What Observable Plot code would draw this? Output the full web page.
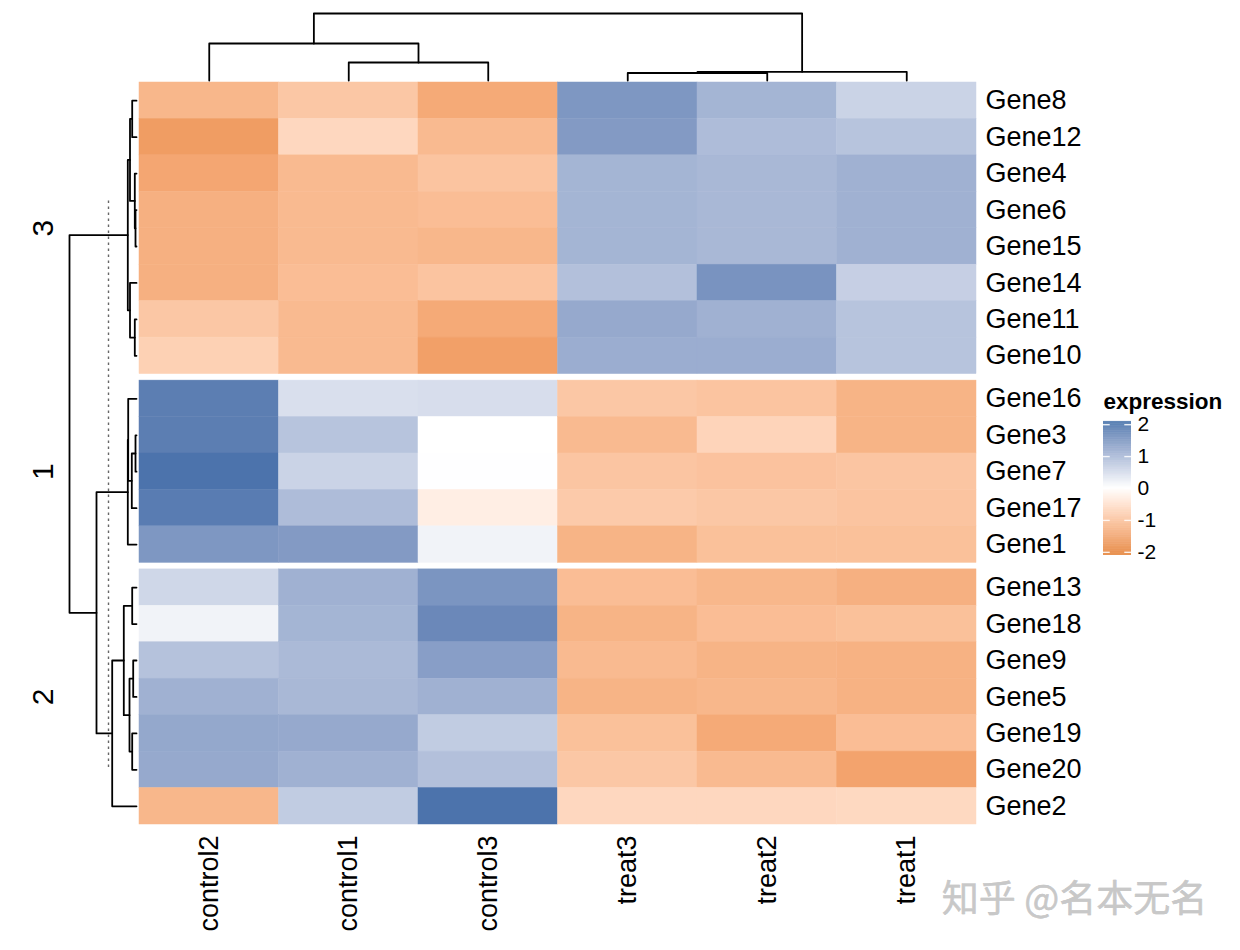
<!DOCTYPE html>
<html><head><meta charset="utf-8">
<script src="https://cdn.jsdelivr.net/npm/d3@7"></script>
<script src="https://cdn.jsdelivr.net/npm/@observablehq/plot@0.6"></script>
<style>
body{margin:0;background:#fff;}
#wrap{position:relative;width:1240px;height:950px;overflow:hidden;}
.layer{position:absolute;}
</style></head><body><div id="wrap"></div>
<script>
// ---------------- data ----------------
const columns = ["control2", "control1", "control3", "treat3", "treat2", "treat1"];
const sliceNames = ["3", "1", "2"];
const slice3Genes = ["Gene8", "Gene12", "Gene4", "Gene6", "Gene15", "Gene14", "Gene11", "Gene10"];
const slice1Genes = ["Gene16", "Gene3", "Gene7", "Gene17", "Gene1"];
const slice2Genes = ["Gene13", "Gene18", "Gene9", "Gene5", "Gene19", "Gene20", "Gene2"];
// values per gene row, in column order above
const slice3Values = [
  [-1.10, -0.85, -1.30, 1.35, 0.95, 0.55],
  [-1.50, -0.60, -1.05, 1.30, 0.85, 0.75],
  [-1.35, -1.05, -0.90, 0.95, 0.90, 1.00],
  [-1.20, -1.05, -1.00, 0.95, 0.90, 1.00],
  [-1.20, -1.05, -1.10, 0.95, 0.90, 1.00],
  [-1.20, -1.00, -0.90, 0.80, 1.40, 0.60],
  [-0.85, -1.05, -1.30, 1.10, 1.00, 0.75],
  [-0.70, -1.05, -1.45, 1.05, 1.05, 0.75]
];
const slice1Values = [
  [1.70, 0.40, 0.42, -0.85, -0.90, -1.15],
  [1.70, 0.75, 0.00, -1.05, -0.65, -1.15],
  [1.85, 0.55, 0.01, -0.88, -0.92, -0.88],
  [1.72, 0.85, -0.25, -0.80, -0.85, -0.90],
  [1.35, 1.30, 0.15, -1.15, -0.95, -0.95]
];
const slice2Values = [
  [0.50, 1.00, 1.38, -1.00, -1.10, -1.20],
  [0.15, 0.95, 1.55, -1.15, -1.00, -0.95],
  [0.78, 0.88, 1.25, -1.05, -1.15, -1.18],
  [1.00, 0.90, 1.00, -1.15, -1.10, -1.18],
  [1.12, 1.10, 0.65, -0.95, -1.30, -1.00],
  [1.10, 1.00, 0.80, -0.85, -1.05, -1.40],
  [-1.10, 0.65, 1.85, -0.60, -0.60, -0.58]
];
const legendTicks = [2, 1, 0, -1, -2];
const legendTitle = "expression";
const watermark = "知乎 @名本无名";
// dendrograms: [left, right, mergeHeight]
const colTree = [["control2", ["control1", "control3", 18], 37], [["treat3", "treat2", 7.5], "treat1", 8.7], 67];
const rowTreeSlice3 = [[["Gene8", "Gene12", 4.3], ["Gene4", ["Gene6", "Gene15", 1.0], 1.7], 6.5], ["Gene14", ["Gene11", "Gene10", 1.7], 6.5], 8.7];
const rowTreeSlice1 = [["Gene16", [["Gene3", "Gene7", 1.0], "Gene17", 4.7], 8.3], "Gene1", 8.7];
const rowTreeSlice2 = [[["Gene13", "Gene18", 4.3], [["Gene9", "Gene5", 3.3], ["Gene19", "Gene20", 4.3], 7.0], 12.7], "Gene2", 24.3];
const rowTree = [rowTreeSlice3, [rowTreeSlice1, rowTreeSlice2, 40], 67];
const cutHeight = 28;

// ---------------- layout ----------------
const W = 1240, H = 950;
const mLeft = 139, mRight = 264, mTop = 82, mBottom = 126;
const sliceGap = 0.18; // in row units
const slices = [
  {name: sliceNames[0], genes: slice3Genes, values: slice3Values},
  {name: sliceNames[1], genes: slice1Genes, values: slice1Values},
  {name: sliceNames[2], genes: slice2Genes, values: slice2Values}
];
let offset = 0;
const geneY = new Map();
slices.forEach((s) => {
  s.start = offset;
  s.genes.forEach((g, i) => geneY.set(g, offset + i));
  offset += s.genes.length;
  s.end = offset;
  offset += sliceGap;
});
const totalRows = offset - sliceGap;
const colPx = (W - mLeft - mRight) / columns.length;
const rowPx = (H - mTop - mBottom) / totalRows;

const cells = slices.flatMap(s => s.genes.flatMap((g, i) =>
  columns.map((c, j) => ({gene: g, col: j, y: geneY.get(g), value: s.values[i][j]}))));
const geneRows = slices.flatMap(s => s.genes.map(g => ({gene: g, y: geneY.get(g)})));

function dendroLines(tree, leafPos) {
  const out = [];
  let id = 0;
  function walk(node) {
    if (typeof node === "string") return {p: leafPos(node), h: 0};
    const [a, b, h] = node;
    const A = walk(a), B = walk(b);
    const k = id++;
    out.push({id: k, p: A.p, h: A.h}, {id: k, p: A.p, h}, {id: k, p: B.p, h}, {id: k, p: B.p, h: B.h});
    return {p: (A.p + B.p) / 2, h};
  }
  walk(tree);
  return out;
}
const colLines = dendroLines(colTree, n => columns.indexOf(n) + 0.5);
const rowLines = dendroLines(rowTree, n => geneY.get(n) + 0.5);
const colDendY = h => -(2 + h) / rowPx;
const rowDendX = h => -(3 + h) / colPx;

const colorSpec = {
  type: "linear",
  domain: [-2, 0, 2],
  range: ["#e47c2e", "#ffffff", "#3a69a5"],
  interpolate: d3.interpolateLab,
  clamp: true
};
const font = "Liberation Sans, Arial, Helvetica, sans-serif";

const main = Plot.plot({
  width: W, height: H,
  marginLeft: mLeft, marginRight: mRight, marginTop: mTop, marginBottom: mBottom,
  style: {fontFamily: font, background: "transparent", overflow: "visible"},
  x: {domain: [0, columns.length], axis: null},
  y: {domain: [0, totalRows], reverse: true, axis: null},
  color: colorSpec,
  marks: [
    Plot.rect(cells, {x1: d => d.col, x2: d => d.col + 1, y1: d => d.y, y2: d => d.y + 1,
      fill: "value", stroke: "value", strokeWidth: 0.5}),
    Plot.line(colLines, {x: "p", y: d => colDendY(d.h), z: "id", stroke: "black", strokeWidth: 1.8}),
    Plot.line(rowLines, {x: d => rowDendX(d.h), y: "p", z: "id", stroke: "black", strokeWidth: 1.8}),
    Plot.ruleX([cutHeight], {x: h => rowDendX(h), y1: geneY.get("Gene6") + 0.25, y2: geneY.get("Gene20") + 0.5,
      stroke: "#666", strokeWidth: 1.4, strokeDasharray: "2.5,3.5"}),
    Plot.text(geneRows, {x: columns.length, y: d => d.y + 0.5, text: "gene", dx: 9,
      textAnchor: "start", lineAnchor: "middle", fontSize: 27, fill: "black"}),
    Plot.text(columns, {x: (d, i) => i + 0.5, y: totalRows, text: d => d, dy: 11, rotate: -90,
      textAnchor: "end", lineAnchor: "middle", fontSize: 27, fill: "black"}),
    Plot.text(slices, {x: 0, dx: -96, y: d => (d.start + d.end) / 2, text: "name", rotate: -90,
      textAnchor: "middle", lineAnchor: "middle", fontSize: 30, fill: "black"}),
    Plot.text([watermark], {x: columns.length, y: totalRows, dx: 98, dy: 76, text: d => d,
      fontFamily: "Noto Sans CJK SC", fontSize: 37, fill: "#c8c8c8", stroke: "#b0b0b0", strokeWidth: 0.4,
      textAnchor: "middle", lineAnchor: "middle"})
  ]
});

// legend
const legW = 140, legH = 200, legLeft = 1090, legTop = 380;
const gradientSteps = d3.range(-2.1, 2.1, 0.02);
const legend = Plot.plot({
  width: legW, height: legH,
  marginLeft: 13, marginRight: legW - 13 - 28, marginTop: 41, marginBottom: 25,
  style: {fontFamily: font, background: "transparent", overflow: "visible"},
  x: {domain: [0, 1], axis: null},
  y: {domain: [-2.1, 2.1], axis: null},
  color: colorSpec,
  marks: [
    Plot.rect(gradientSteps, {x1: 0, x2: 1, y1: d => d, y2: d => d + 0.022, fill: d => d}),
    Plot.ruleY(legendTicks, {x1: 0, x2: 0.24, stroke: "white", strokeWidth: 1.4, strokeOpacity: 0.85}),
    Plot.ruleY(legendTicks, {x1: 0.76, x2: 1, stroke: "white", strokeWidth: 1.4, strokeOpacity: 0.85}),
    Plot.text(legendTicks, {x: 1, y: d => d, dx: 6, text: d => String(d), textAnchor: "start",
      lineAnchor: "middle", fontSize: 21, fill: "black"}),
    Plot.text([legendTitle], {x: 0, y: 2.1, dy: -13, text: d => d, textAnchor: "start", lineAnchor: "bottom",
      fontSize: 22.5, fontWeight: "bold", fill: "black"})
  ]
});

const wrap = document.getElementById("wrap");
const l1 = document.createElement("div"); l1.className = "layer"; l1.style.left = "0px"; l1.style.top = "0px";
l1.appendChild(main); wrap.appendChild(l1);
const l2 = document.createElement("div"); l2.className = "layer";
l2.style.left = legLeft + "px"; l2.style.top = legTop + "px";
l2.appendChild(legend); wrap.appendChild(l2);
</script></body></html>
